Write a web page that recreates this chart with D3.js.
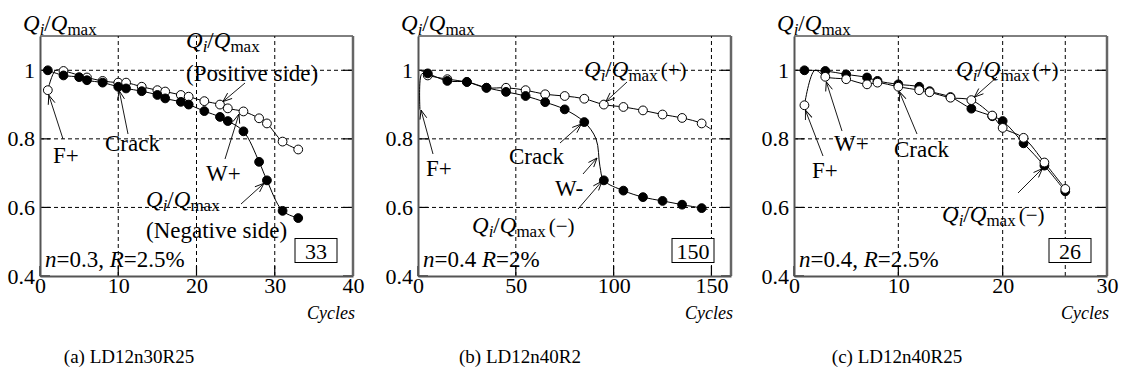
<!DOCTYPE html>
<html>
<head>
<meta charset="utf-8">
<script src="https://cdn.jsdelivr.net/npm/d3@7"></script>
<style>
  body { margin: 0; background: #fff; }
  svg text { font-family: "Liberation Serif", "Times New Roman", serif; fill: #000; }
</style>
</head>
<body>
<svg id="chart" width="1126" height="383"></svg>
<script>
// Panel (a) LD12n30R25
const cyclesA_pos = [1, 3, 6, 8, 10, 11, 13, 15, 16, 18, 19, 21, 23, 24, 26, 28, 29, 31, 33];
const valuesA_pos = [0.942, 0.998, 0.979, 0.969, 0.964, 0.964, 0.952, 0.942, 0.938, 0.928, 0.923, 0.910, 0.900, 0.889, 0.880, 0.860, 0.845, 0.792, 0.769];
const cyclesA_neg = [1, 3, 5, 6, 8, 10, 11, 13, 15, 16, 18, 19, 21, 23, 24, 26, 28, 29, 31, 33];
const valuesA_neg = [1.0, 0.985, 0.980, 0.971, 0.964, 0.952, 0.947, 0.939, 0.928, 0.918, 0.908, 0.900, 0.881, 0.864, 0.852, 0.822, 0.733, 0.679, 0.590, 0.569];

// Panel (b) LD12n40R2 (markers every 10 cycles, line also passes unmarked cycles)
const cyclesB_pos = [5, 15, 25, 35, 45, 55, 65, 75, 85, 95, 105, 115, 125, 135, 145];
const valuesB_pos = [0.985, 0.974, 0.966, 0.949, 0.949, 0.942, 0.930, 0.925, 0.917, 0.900, 0.893, 0.883, 0.871, 0.861, 0.845];
const lineOnlyB_pos = [[1, 0.885], [2, 0.99], [150, 0.827]];
const cyclesB_neg = [5, 15, 25, 35, 45, 55, 65, 75, 85, 95, 105, 115, 125, 135, 145];
const valuesB_neg = [0.991, 0.969, 0.966, 0.949, 0.937, 0.925, 0.907, 0.886, 0.849, 0.679, 0.649, 0.630, 0.619, 0.608, 0.598];
const lineOnlyB_neg = [[1, 1.0], [91, 0.80], [93, 0.72], [148, 0.594]];

// Panel (c) LD12n40R25
const cyclesC = [1, 3, 5, 7, 8, 10, 12, 13, 15, 17, 19, 20, 22, 24, 26];
const valuesC_pos = [0.898, 0.981, 0.974, 0.959, 0.964, 0.952, 0.942, 0.936, 0.920, 0.913, 0.868, 0.832, 0.803, 0.731, 0.654];
const valuesC_neg = [1.0, 0.998, 0.988, 0.979, 0.969, 0.959, 0.952, 0.939, 0.922, 0.888, 0.866, 0.852, 0.787, 0.722, 0.647];
const lineOnlyC_pos = [[2, 1.0]];

// Axes
const yTicks = [0.4, 0.6, 0.8, 1.0];
const xTicksA = [0, 10, 20, 30, 40];
const xTicksB = [0, 50, 100, 150];
const xTicksC = [0, 10, 20, 30];
const captions = ["(a) LD12n30R25", "(b) LD12n40R2", "(c) LD12n40R25"];
const totalCycles = [33, 150, 26];
const specLabels = [
  [["n", true], ["=0.3, ", false], ["R", true], ["=2.5%", false]],
  [["n", true], ["=0.4 ", false], ["R", true], ["=2%", false]],
  [["n", true], ["=0.4, ", false], ["R", true], ["=2.5%", false]]
];

const svg = d3.select('#chart');
const FS = 23;

// arrow head (open V)
svg.append('defs').append('marker')
  .attr('id', 'arr')
  .attr('viewBox', '-10 -5 12 10')
  .attr('refX', 0).attr('refY', 0)
  .attr('markerWidth', 12).attr('markerHeight', 10)
  .attr('markerUnits', 'userSpaceOnUse')
  .attr('orient', 'auto')
  .append('path')
  .attr('d', 'M-9,-3.5 L0,0 L-9,3.5')
  .attr('fill', 'none').attr('stroke', '#000').attr('stroke-width', 0.9);

const pair = (cs, vs) => cs.map((c, i) => [c, vs[i]]);
const merge = (pts, extra) => pts.concat(extra || []).sort((a, b) => a[0] - b[0]);

// Q_i/Q_max label built from tspans
function qLabel(g, x, y, suffix) {
  const size = FS, sub = 17;
  const t = g.append('text').attr('x', x).attr('y', y).style('font-size', size + 'px');
  t.append('tspan').text('Q').style('font-style', 'italic');
  t.append('tspan').text('i').style('font-style', 'italic').style('font-size', sub + 'px').attr('dy', 4);
  t.append('tspan').text('/').attr('dy', -4);
  t.append('tspan').text('Q').style('font-style', 'italic');
  t.append('tspan').text('max').style('font-size', sub + 'px').attr('dy', 4);
  if (suffix) t.append('tspan').text(suffix).attr('dy', -4).attr('dx', 3).style('font-size', '21px');
  return t;
}

function label(g, x, y, txt) {
  return g.append('text').attr('x', x).attr('y', y).style('font-size', FS + 'px').text(txt);
}

function arrow(g, x1, y1, x2, y2, head) {
  const l = g.append('line')
    .attr('x1', x1).attr('y1', y1).attr('x2', x2).attr('y2', y2)
    .attr('stroke', '#000').attr('stroke-width', 0.9);
  if (head !== false) l.attr('marker-end', 'url(#arr)');
}

function drawPanel(p) {
  const g = svg.append('g');
  const x = d3.scaleLinear().domain(p.xDomain).range([p.left, p.left + 313]);
  const y = d3.scaleLinear().domain([0.4, 1.1]).range([276, 36]);
  const [x0, x1] = x.range();
  const [yb, yt] = y.range();

  // dashed grid
  g.selectAll('.hg').data(yTicks.filter(d => d > 0.4)).join('line')
    .attr('x1', x0).attr('x2', x1).attr('y1', d => y(d)).attr('y2', d => y(d))
    .attr('stroke', '#000').attr('stroke-width', 1).attr('stroke-dasharray', '4,3');
  g.selectAll('.vg').data(p.vGrid).join('line')
    .attr('x1', d => x(d)).attr('x2', d => x(d)).attr('y1', yb).attr('y2', yt)
    .attr('stroke', '#000').attr('stroke-width', 1).attr('stroke-dasharray', '4,3');

  // inward ticks
  g.selectAll('.lt').data(yTicks).join('line')
    .attr('x1', x0).attr('x2', x0 + 10).attr('y1', d => y(d)).attr('y2', d => y(d))
    .attr('stroke', '#000').attr('stroke-width', 1.2);
  g.selectAll('.rt').data(yTicks).join('line')
    .attr('x1', x1).attr('x2', x1 - 10).attr('y1', d => y(d)).attr('y2', d => y(d))
    .attr('stroke', '#000').attr('stroke-width', 1.2);
  g.selectAll('.bt').data(p.xTicks).join('line')
    .attr('x1', d => x(d)).attr('x2', d => x(d)).attr('y1', yb).attr('y2', yb - 10)
    .attr('stroke', '#000').attr('stroke-width', 1.2);

  // frame
  g.append('line').attr('x1', x0).attr('x2', x1).attr('y1', yt).attr('y2', yt).attr('stroke', '#000').attr('stroke-width', 1);
  g.append('line').attr('x1', x1).attr('x2', x1).attr('y1', yt).attr('y2', yb).attr('stroke', '#666').attr('stroke-width', 2.5);

  // axes (labels + axis lines)
  const ya = g.append('g').attr('transform', `translate(${x0},0)`)
    .call(d3.axisLeft(y).tickValues(yTicks).tickSize(0).tickPadding(5)
      .tickFormat(d => d === 1 ? '1' : d3.format('.1f')(d)));
  ya.select('.domain').attr('stroke', '#555').attr('stroke-width', 2);
  ya.selectAll('text').style('font-size', '22px').style('font-family', '"Liberation Serif", serif');

  const xa = g.append('g').attr('transform', `translate(0,${yb})`)
    .call(d3.axisBottom(x).tickValues(p.xTicks).tickSize(0).tickPadding(1));
  xa.select('.domain').attr('stroke', '#555').attr('stroke-width', 2);
  xa.selectAll('text').style('font-size', '22px').style('font-family', '"Liberation Serif", serif');

  // curves
  const line = d3.line().x(d => x(d[0])).y(d => y(d[1])).curve(d3.curveCatmullRom.alpha(0.5));
  p.series.forEach(s => {
    g.append('path').attr('d', line(merge(s.pts, s.extra)))
      .attr('fill', 'none').attr('stroke', '#000').attr('stroke-width', 1);
  });
  p.series.forEach(s => {
    g.selectAll(null).data(s.pts).join('circle')
      .attr('cx', d => x(d[0])).attr('cy', d => y(d[1])).attr('r', 4.4)
      .attr('fill', s.filled ? '#000' : '#fff').attr('stroke', '#000').attr('stroke-width', 1);
  });

  // y label
  qLabel(g, x0 - 17, 31);

  // Cycles label
  g.append('text').attr('x', x1 + 2).attr('y', 319).attr('text-anchor', 'end')
    .style('font-size', '18px').style('font-style', 'italic').text('Cycles');

  // spec label
  const st = g.append('text').attr('x', x0 + 5).attr('y', 267).style('font-size', FS + 'px');
  p.spec.forEach(([t, it]) => st.append('tspan').text(t).style('font-style', it ? 'italic' : 'normal'));

  // boxed total cycles
  g.append('rect').attr('x', p.boxX - 21).attr('y', 238.5).attr('width', 42).attr('height', 24)
    .attr('fill', '#fff').attr('stroke', '#000').attr('stroke-width', 1);
  g.append('text').attr('x', p.boxX).attr('y', 259).attr('text-anchor', 'middle')
    .style('font-size', '22px').text(p.total);

  // caption
  g.append('text').attr('x', p.capX).attr('y', 363).attr('text-anchor', 'middle')
    .style('font-size', '19px').text(p.caption);

  p.annotate(g, x, y);
}

// (a)
drawPanel({
  left: 40, xDomain: [0, 40], xTicks: xTicksA, vGrid: [10, 20, 30],
  series: [
    { pts: pair(cyclesA_pos, valuesA_pos), extra: [[2, 1.0]], filled: false },
    { pts: pair(cyclesA_neg, valuesA_neg), filled: true }
  ],
  spec: specLabels[0], total: totalCycles[0], boxX: 316, capX: 129, caption: captions[0],
  annotate: (g, x, y) => {
    qLabel(g, 186, 48);
    label(g, 186, 81, '(Positive side)');
    arrow(g, 245, 83, x(23) + 3, y(0.900) - 3);
    label(g, 105, 151, 'Crack');
    arrow(g, 128, 134, x(10) + 1, y(0.952) + 4);
    label(g, 53, 163, 'F+');
    arrow(g, 63, 139, x(1) + 1, y(0.942) + 5);
    label(g, 206, 181, 'W+');
    arrow(g, 225, 159, 239, 114);
    qLabel(g, 146, 207);
    label(g, 146, 238, '(Negative side)');
    arrow(g, 241, 204, x(29) - 3, y(0.679) + 3);
  }
});

// (b)
drawPanel({
  left: 418, xDomain: [0, 160], xTicks: xTicksB, vGrid: [50, 100, 150],
  series: [
    { pts: pair(cyclesB_pos, valuesB_pos), extra: lineOnlyB_pos, filled: false },
    { pts: pair(cyclesB_neg, valuesB_neg), extra: lineOnlyB_neg, filled: true }
  ],
  spec: specLabels[1], total: totalCycles[1], boxX: 693, capX: 520, caption: captions[1],
  annotate: (g, x, y) => {
    qLabel(g, 584, 77, '(+)');
    arrow(g, 627, 82, x(95) + 2, y(0.900) - 3);
    label(g, 426, 176, 'F+');
    arrow(g, 433, 154, 421, 110);
    label(g, 509, 164, 'Crack');
    arrow(g, 560, 143, x(85) - 3, y(0.849) + 2);
    label(g, 555, 196, 'W-');
    arrow(g, 583, 174, 597, 158);
    qLabel(g, 472, 233, '(\u2212)');
    arrow(g, 578, 209, x(95) - 2, y(0.679) + 1);
  }
});

// (c)
drawPanel({
  left: 794, xDomain: [0, 30], xTicks: xTicksC, vGrid: [10, 20, 26],
  series: [
    { pts: pair(cyclesC, valuesC_neg), filled: true },
    { pts: pair(cyclesC, valuesC_pos), extra: lineOnlyC_pos, filled: false }
  ],
  spec: specLabels[2], total: totalCycles[2], boxX: 1070, capX: 897, caption: captions[2],
  annotate: (g, x, y) => {
    qLabel(g, 956, 77, '(+)');
    arrow(g, 997, 77, x(17) + 3, y(0.913) - 3);
    label(g, 834, 151, 'W+');
    arrow(g, 842, 131, x(3) + 1, y(0.981) + 5);
    label(g, 812, 178, 'F+');
    arrow(g, 823, 156, x(1) + 1, y(0.898) + 5);
    label(g, 894, 157, 'Crack');
    arrow(g, 917, 134, x(10) + 1, y(0.952) + 5);
    qLabel(g, 942, 222, '(\u2212)');
    arrow(g, 1018, 193, x(24) - 2, y(0.722) + 3);
  }
});
</script>
</body>
</html>
